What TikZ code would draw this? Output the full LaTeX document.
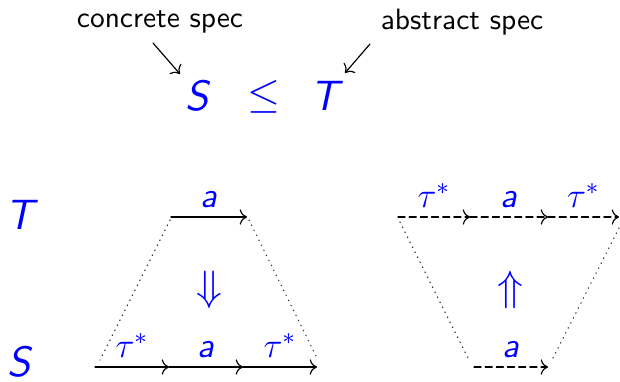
\documentclass[tikz,border=0pt]{standalone}
\usepackage{amsmath}
\usepackage{amssymb}
\usepackage{tikz}
\usepackage{xcolor}
\usetikzlibrary{arrows.meta,positioning}

\newcommand{\sfit}[1]{\textsf{\textit{#1}}}

\begin{document}
\begin{tikzpicture}[x=0.34pt, y=-0.34pt, >=To, line cap=round, line join=round,
    lbl/.style={blue, inner sep=0pt, font=\large\sffamily},
    big/.style={blue, inner sep=0pt, font=\Large\sffamily},
    note/.style={inner sep=0pt, font=\sffamily},
    trans/.style={->, thin},
    mays/.style={->, thin, dash pattern=on 2.4pt off 1.4pt},
    link/.style={thin, black!80, dash pattern=on 0.2pt off 1.7pt}]
  \useasboundingbox (0,0) rectangle (620,382);

  % refinement relation
  \node[note] (conc) at (160,22) {concrete spec};
  \node[note] (abst) at (462,22) {abstract spec};
  \node[big] (S) at (198,96) {\sfit{S}};
  \node[big] (leq) at (264,97) {$\leq$};
  \node[big] (T) at (327,96) {\sfit{T}};
  \coordinate (c1) at (153,43);
  \coordinate (c2) at (180,74);
  \coordinate (a1) at (370,44);
  \coordinate (a2) at (345,73);
  \draw[->, thin] (c1) -- (c2);
  \draw[->, thin] (a1) -- (a2);

  % row labels
  \node[big] (rowT) at (22,215) {\sfit{T}};
  \node[big] (rowS) at (20,362) {\sfit{S}};

  % left square: must transitions
  \coordinate (L1) at (171,217);
  \coordinate (L2) at (247,217);
  \coordinate (B0) at (95,367);
  \coordinate (B1) at (169,367);
  \coordinate (B2) at (243,367);
  \coordinate (B3) at (317,367);
  \draw[trans] (L1) -- (L2) node[lbl, midway, above=3pt] {\sfit{a}};
  \draw[trans] (B0) -- (B1) node[lbl, midway, above=3pt] {$\tau^*$};
  \draw[trans] (B1) -- (B2) node[lbl, midway, above=3pt] {\sfit{a}};
  \draw[trans] (B2) -- (B3) node[lbl, midway, above=3pt] {$\tau^*$};
  \draw[link] (170,220) -- (100,360);
  \draw[link] (249,220) -- (318,360);
  \node[big] (down) at (209,290) {$\Downarrow$};

  % right square: may transitions
  \coordinate (R0) at (398,217);
  \coordinate (R1) at (470,217);
  \coordinate (R2) at (548,217);
  \coordinate (R3) at (619,217);
  \coordinate (D1) at (474,367);
  \coordinate (D2) at (548,367);
  \draw[mays] (R0) -- (R1) node[lbl, midway, above=3pt] {$\tau^*$};
  \draw[mays] (R1) -- (R2) node[lbl, midway, above=3pt] {\sfit{a}};
  \draw[mays] (R2) -- (R3) node[lbl, midway, above=3pt] {$\tau^*$};
  \draw[mays] (D1) -- (D2) node[lbl, midway, above=3pt] {\sfit{a}};
  \draw[link] (400,222) -- (469,360);
  \draw[link] (619,228) -- (552,360);
  \node[big] (up) at (510,290) {$\Uparrow$};
\end{tikzpicture}
\end{document}
